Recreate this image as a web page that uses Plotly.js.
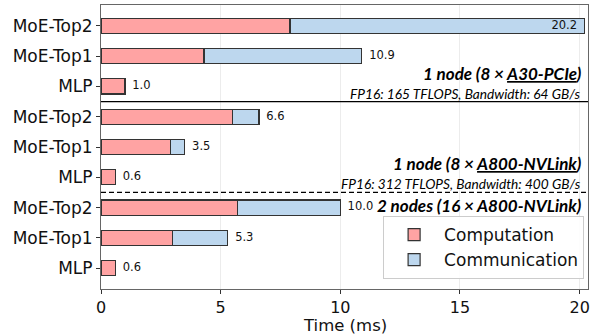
<!DOCTYPE html>
<html>
<head>
<meta charset="utf-8">
<script src="https://cdn.plot.ly/plotly-3.0.1.min.js"></script>
<style>html,body{margin:0;padding:0;background:#fff;}#chart{width:590px;height:335px;}</style>
</head>
<body>
<div id="chart"></div>
<script>
const categories = ['MoE-Top2','MoE-Top1','MLP','MoE-Top2','MoE-Top1','MLP','MoE-Top2','MoE-Top1','MLP'];
const positions = [0,1,2,3,4,5,6,7,8];
const computation = [7.9, 4.3, 1.0, 5.5, 2.9, 0.6, 5.7, 3.0, 0.6];
const totals = [20.2, 10.9, 1.0, 6.6, 3.5, 0.6, 10.0, 5.3, 0.6];
const communication = totals.map((t, i) => +(t - computation[i]).toFixed(2));
const totalLabels = totals.map(t => t.toFixed(1));
const xTicks = [0, 5, 10, 15, 20];
const xTitle = 'Time (ms)';

const base = 'DejaVu Sans, sans-serif';
const anno = 'Lato, Open Sans, sans-serif';

const traces = [
  {type:'bar', orientation:'h', name:'Computation', y:positions, x:computation, width:0.5,
   marker:{color:'#FFA3A3', line:{color:'#333', width:1.2}}, hoverinfo:'x'},
  {type:'bar', orientation:'h', name:'Communication', y:positions, x:communication, width:0.5,
   marker:{color:'#BDD7EE', line:{color:'#333', width:1.2}}, hoverinfo:'x'},
  {type:'scatter', mode:'text', showlegend:false, y:positions,
   x:totals.map(t => t),
   text:totalLabels.map((s, i) => totals[i] > 20 ? s + '  ' : '  ' + s),
   textposition:totals.map(t => t > 20 ? 'middle left' : 'middle right'),
   textfont:{family:base, size:11.5, color:'#111'}, hoverinfo:'skip', cliponaxis:false}
];

const layout = {
  width:590, height:335,
  margin:{l:101, r:2, t:5, b:46},
  paper_bgcolor:'#fff', plot_bgcolor:'#fff',
  barmode:'stack',
  showlegend:true,
  legend:{x:0.992, y:0.035, xanchor:'right', yanchor:'bottom', traceorder:'normal',
    bordercolor:'#cccccc', borderwidth:1, bgcolor:'rgba(255,255,255,0.9)',
    font:{family:base, size:17, color:'#111'}, itemwidth:50},
  xaxis:{range:[0, 20.35], tickvals:xTicks, ticktext:xTicks.map(String),
    showgrid:true, gridcolor:'#ececec', gridwidth:1, zeroline:false,
    showline:true, linecolor:'#666', linewidth:1, mirror:true,
    ticks:'outside', ticklen:4, tickcolor:'#333', ticklabeloverflow:'allow',
    tickfont:{family:base, size:16, color:'#111'}},
  yaxis:{range:[8.69, -0.69], tickvals:positions, ticktext:categories,
    showgrid:false, zeroline:false,
    showline:true, linecolor:'#666', linewidth:1, mirror:true,
    ticks:'outside', ticklen:4, tickcolor:'#333',
    tickfont:{family:base, size:17, color:'#111'}},
  shapes:[
    {type:'line', xref:'paper', yref:'y', x0:0, x1:1, y0:2.5, y1:2.5, line:{color:'#000', width:1.3}},
    {type:'line', xref:'paper', yref:'y', x0:0, x1:1, y0:5.5, y1:5.5, line:{color:'#000', width:1.3, dash:'5px,3px'}}
  ],
  annotations:[
    {xref:'paper', yref:'paper', x:0.5, y:-0.1655, xanchor:'center', yanchor:'bottom', showarrow:false,
     borderpad:0, text:xTitle, font:{family:base, size:16.5, color:'#111'}},
    {xref:'paper', yref:'y', x:0.988, y:1.57, xanchor:'right', yanchor:'middle', showarrow:false, borderpad:0,
     text:'<b><i>1 node (8 × <u>A30-PCIe</u>)</i></b>', font:{family:anno, size:17, color:'#000'}},
    {xref:'paper', yref:'y', x:0.988, y:2.23, xanchor:'right', yanchor:'middle', showarrow:false, borderpad:0,
     text:'<i>FP16: 165 TFLOPS, Bandwidth: 64 GB/s</i>', font:{family:anno, size:13.7, color:'#000'}},
    {xref:'paper', yref:'y', x:0.988, y:4.55, xanchor:'right', yanchor:'middle', showarrow:false, borderpad:0,
     text:'<b><i>1 node (8 × <u>A800-NVLink</u>)</i></b>', font:{family:anno, size:17, color:'#000'}},
    {xref:'paper', yref:'y', x:0.988, y:5.22, xanchor:'right', yanchor:'middle', showarrow:false, borderpad:0,
     text:'<i>FP16: 312 TFLOPS, Bandwidth: 400 GB/s</i>', font:{family:anno, size:13.7, color:'#000'}},
    {xref:'paper', yref:'y', x:0.988, y:5.92, xanchor:'right', yanchor:'middle', showarrow:false, borderpad:0,
     text:'<b><i>2 nodes (16 × A800-NVLink)</i></b>', font:{family:anno, size:17, color:'#000'}}
  ]
};

Plotly.newPlot('chart', traces, layout, {displayModeBar:false, staticPlot:true});
</script>
</body>
</html>
